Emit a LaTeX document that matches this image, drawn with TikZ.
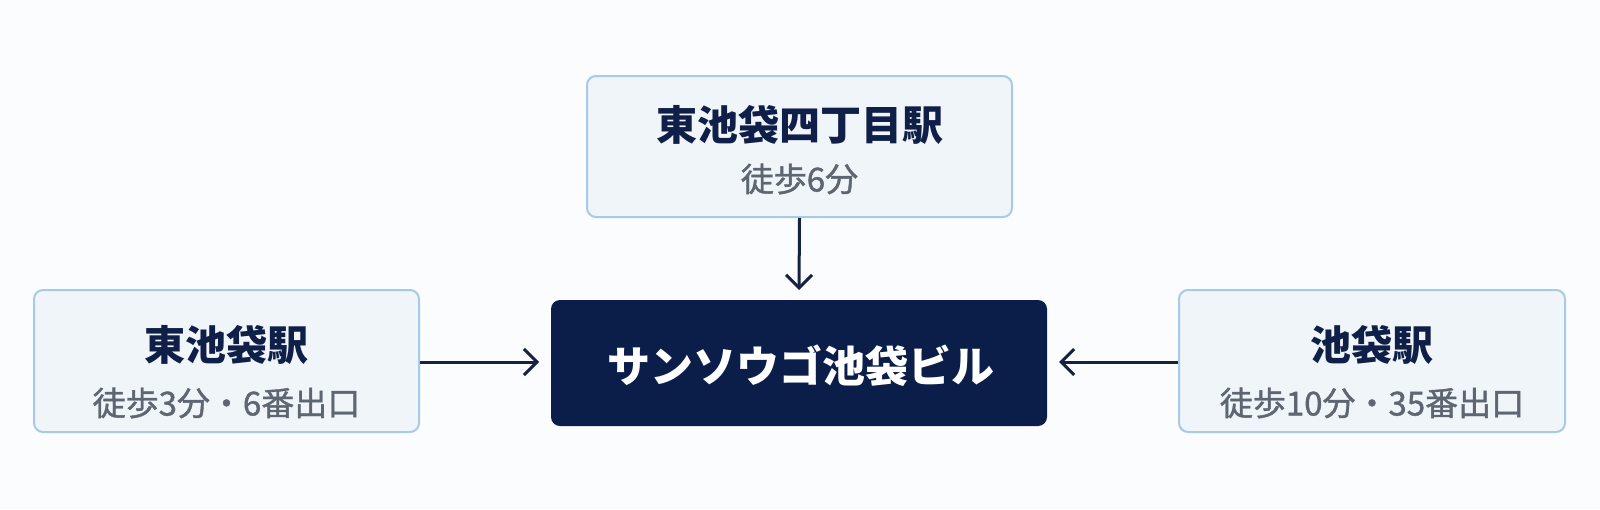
\documentclass[tikz,border=0pt]{standalone}
\usepackage{fontspec}
\newfontfamily\cjk{Noto Sans CJK JP}
\newfontfamily\cjksub{Noto Sans CJK JP}[FakeBold=1.2]
\usetikzlibrary{arrows.meta}
\definecolor{bgc}{HTML}{FBFCFD}
\definecolor{boxfill}{HTML}{F0F5FA}
\definecolor{boxline}{HTML}{A9C9E8}
\definecolor{navy}{HTML}{0B1E4A}
\definecolor{titlec}{HTML}{0F1F47}
\definecolor{subc}{HTML}{5E6672}
\definecolor{arrc}{HTML}{16223F}
\tikzset{
  station/.style={draw=boxline, line width=1pt, fill=boxfill, rounded corners=4.5pt, inner sep=0pt},
  mainbox/.style={fill=navy, rounded corners=4.5pt, inner sep=0pt},
  ttl/.style={text=titlec, font=\cjk\bfseries\fontsize{20.5}{24}\selectfont, inner sep=0pt, anchor=center},
  sub/.style={text=subc, font=\cjksub\fontsize{16.5}{20}\selectfont, inner sep=0pt, anchor=center},
  conn/.style={draw=arrc, line width=1.5pt, -{Straight Barb[length=6.5pt,width=13pt,line width=1.5pt]}}
}
\begin{document}
\begin{tikzpicture}[x=0.5pt,y=-0.5pt]
\fill[bgc] (0,0) rectangle (1600,509);
\useasboundingbox (0,0) rectangle (1600,509);
% boxes
\node[station, minimum width=212.5pt, minimum height=70.5pt] (top) at (799.5,146.5) {};
\node[station, minimum width=192.5pt, minimum height=71pt] (left) at (226.5,361) {};
\node[station, minimum width=193pt, minimum height=71pt] (right) at (1372,361) {};
\node[mainbox, minimum width=248pt, minimum height=63pt] (main) at (799,363) {};
% texts
\node[ttl] (toptitle) at (799.5,125) {東池袋四丁目駅};
\node[sub] (topsub) at (799.5,179) {徒歩6分};
\node[ttl] (lefttitle) at (226.5,345) {東池袋駅};
\node[sub] (leftsub) at (226.5,403) {徒歩3分・6番出口};
\node[ttl] (righttitle) at (1372,345) {池袋駅};
\node[sub] (rightsub) at (1372,403) {徒歩10分・35番出口};
\node[text=white, font=\cjk\bfseries\fontsize{21.5}{26}\selectfont, inner sep=0pt] (maintext) at (801,366) {サンソウゴ池袋ビル};
% connectors
\coordinate (topend) at (799,290);
\coordinate (leftend) at (539,362);
\coordinate (rightend) at (1059,362);
\draw[conn] (top.south) -- (topend);
\draw[conn] (left.east |- leftend) -- (leftend);
\draw[conn] (right.west |- rightend) -- (rightend);
\end{tikzpicture}
\end{document}
